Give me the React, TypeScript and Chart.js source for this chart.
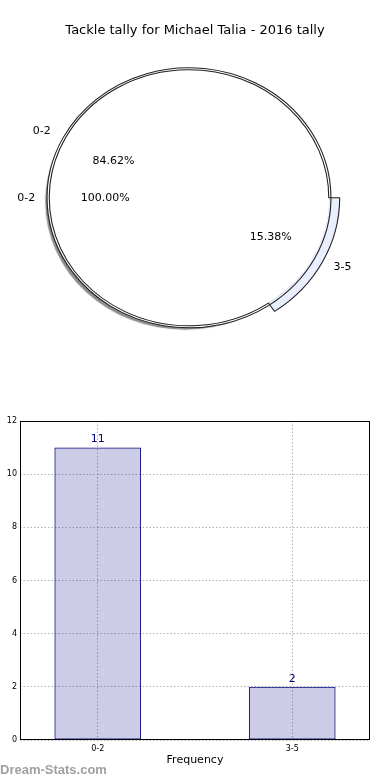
import React, { useEffect, useRef } from 'react';
import { Chart, registerables } from 'chart.js';

Chart.register(...registerables);

// ---------- data ----------
const TITLE = 'Tackle tally for Michael Talia - 2016 tally';
const BINS = ['0-2', '3-5'];
const GAMES = [11, 2];
const INNER_BINS = ['0-2'];
const INNER_VALUES = [100];
const Y_MIN = 0;
const Y_MAX = 12;
const Y_STEP = 2;
const X_TITLE = 'Frequency';
const Y_TITLE = 'Statistic Tally';
const WATERMARK = 'Dream-Stats.com';

// ---------- style ----------
const FONT = "'DejaVu Sans', sans-serif";
const PIE_COLORS = ['#ffffff', '#e9effc'];
const EXPLODED = [false, true];
const OUTER_EXPLODE = [0, 0.05];
const PIE_SX = 1.092;
const PIE_SHIFT = -6;
const EDGE = '#222222';
const GRID = 'rgba(0,0,0,0.3)';

const pieShape = {
  id: 'pieShape',
  beforeDatasetsDraw(chart: any) {
    const ctx = chart.ctx;
    const ca = chart.chartArea;
    const cx = (ca.left + ca.right) / 2;
    ctx.save();
    ctx.translate(cx + PIE_SHIFT, 0);
    ctx.scale(PIE_SX, 1);
    ctx.translate(-cx, 0);
  },
  beforeDatasetDraw(chart: any, args: any) {
    const ctx = chart.ctx;
    if (args.index === 2) {
      ctx.shadowColor = 'rgba(0,0,0,0.45)';
      ctx.shadowOffsetX = -4;
      ctx.shadowOffsetY = 4;
      ctx.shadowBlur = 1;
    } else {
      ctx.shadowColor = 'rgba(0,0,0,0)';
    }
  },
  afterDatasetDraw(chart: any) {
    chart.ctx.shadowColor = 'rgba(0,0,0,0)';
  },
  afterDatasetsDraw(chart: any) {
    chart.ctx.restore();
  },
};

const pieLabels = {
  id: 'pieLabels',
  afterDraw(chart: any) {
    const ctx = chart.ctx;
    const ca = chart.chartArea;
    const cx = (ca.left + ca.right) / 2;
    const mapX = (x: number) => cx + PIE_SHIFT + (x - cx) * PIE_SX;
    ctx.save();
    ctx.font = `11px ${FONT}`;
    ctx.fillStyle = '#000';
    ctx.textBaseline = 'middle';
    const draw = (arc: any, name: string, pct: string, explode: number) => {
      const mid = (arc.startAngle + arc.endAngle) / 2;
      const r = arc.outerRadius;
      const c = Math.cos(mid);
      const s = Math.sin(mid);
      const e = explode * r;
      const nr = r * 1.1 + e;
      ctx.textAlign = c < -0.001 ? 'right' : 'left';
      ctx.fillText(name, mapX(arc.x + c * nr), arc.y + s * nr);
      const pr = r * 0.6 + e;
      ctx.textAlign = 'center';
      ctx.fillText(pct, mapX(arc.x + c * pr), arc.y + s * pr);
    };
    const total = GAMES.reduce((a, b) => a + b, 0);
    const n = BINS.length;
    const outerMeta = chart.getDatasetMeta(1);
    outerMeta.data.forEach((arc: any, j: number) => {
      const i = n - 1 - j;
      draw(arc, BINS[i], ((GAMES[i] / total) * 100).toFixed(2) + '%', OUTER_EXPLODE[i]);
    });
    const innerTotal = INNER_VALUES.reduce((a, b) => a + b, 0);
    const innerMeta = chart.getDatasetMeta(2);
    innerMeta.data.forEach((arc: any, i: number) => {
      draw(arc, INNER_BINS[i], ((INNER_VALUES[i] / innerTotal) * 100).toFixed(2) + '%', 0);
    });
    ctx.restore();
  },
};

const frame = {
  id: 'frame',
  afterDraw(chart: any) {
    const ctx = chart.ctx;
    const { left, top, right, bottom } = chart.chartArea;
    ctx.save();
    ctx.strokeStyle = '#000';
    ctx.lineWidth = 1;
    const l = Math.round(left) + 0.5;
    const t = Math.round(top) + 0.5;
    const r = Math.round(right) - 0.5;
    const b = Math.round(bottom) - 0.5;
    ctx.strokeRect(l, t, r - l, b - t);
    ctx.restore();
  },
};

const barLabels = {
  id: 'barLabels',
  afterDatasetsDraw(chart: any) {
    const ctx = chart.ctx;
    const meta = chart.getDatasetMeta(0);
    ctx.save();
    ctx.font = `11px ${FONT}`;
    ctx.fillStyle = '#000080';
    ctx.textAlign = 'center';
    ctx.textBaseline = 'middle';
    meta.data.forEach((bar: any, i: number) => {
      ctx.fillText(String(GAMES[i]), bar.x, bar.y - 8);
    });
    ctx.restore();
  },
};

export default function App() {
  const pieRef = useRef<HTMLCanvasElement>(null);
  const barRef = useRef<HTMLCanvasElement>(null);

  useEffect(() => {
    const rev = [...GAMES].reverse();
    const revIdx = rev.map((_, j) => GAMES.length - 1 - j);

    const pie = new Chart(pieRef.current as HTMLCanvasElement, {
      type: 'pie',
      data: {
        labels: revIdx.map((i) => BINS[i]),
        datasets: [
          {
            data: rev,
            weight: 8,
            rotation: 90,
            backgroundColor: revIdx.map((i) => (EXPLODED[i] ? PIE_COLORS[i] : 'rgba(0,0,0,0)')),
            borderColor: EDGE,
            borderWidth: revIdx.map((i) => (EXPLODED[i] ? 1 : 0)),
          } as any,
          {
            data: rev,
            weight: 2,
            rotation: 90,
            backgroundColor: revIdx.map((i) => PIE_COLORS[i]),
            borderColor: EDGE,
            borderWidth: revIdx.map((i) => (EXPLODED[i] ? 0 : 1)),
          } as any,
          {
            data: INNER_VALUES,
            weight: 128,
            rotation: 90,
            backgroundColor: INNER_VALUES.map(() => PIE_COLORS[0]),
            borderColor: EDGE,
            borderWidth: 0,
          } as any,
        ],
      },
      options: {
        animation: false,
        responsive: false,
        devicePixelRatio: 1,
        events: [],
        radius: 138,
        layout: { padding: 0 },
        plugins: {
          legend: { display: false },
          tooltip: { enabled: false },
          title: {
            display: true,
            text: TITLE,
            color: '#000',
            font: { family: FONT, size: 13, weight: 'normal' },
            padding: { top: 23, bottom: 9 },
          },
        },
      } as any,
      plugins: [pieShape, pieLabels],
    });

    const bar = new Chart(barRef.current as HTMLCanvasElement, {
      type: 'bar',
      data: {
        datasets: [
          {
            data: GAMES.map((v, i) => ({ x: i, y: v })),
            backgroundColor: 'rgba(0,0,128,0.2)',
            borderColor: '#000080',
            borderWidth: 1,
            borderSkipped: false,
            categoryPercentage: 1,
            barPercentage: 0.446,
          } as any,
        ],
      },
      options: {
        animation: false,
        responsive: false,
        devicePixelRatio: 1,
        events: [],
        layout: { padding: { top: 21, right: 20, left: 0, bottom: 0 } },
        plugins: {
          legend: { display: false },
          tooltip: { enabled: false },
        },
        scales: {
          x: {
            type: 'linear',
            min: -0.4,
            max: 1.4,
            offset: false,
            afterBuildTicks: (s: any) => {
              s.ticks = BINS.map((_, i) => ({ value: i }));
            },
            afterFit: (s: any) => {
              s.height = 40;
            },
            ticks: {
              callback: (v: any) => BINS[v as number] ?? '',
              font: { family: FONT, size: 8 },
              color: '#000',
              padding: 4,
              maxRotation: 0,
            },
            grid: { offset: false, color: GRID, lineWidth: 1, drawTicks: false },
            border: { display: false, dash: [1.5, 2] },
            title: {
              display: true,
              text: X_TITLE,
              color: '#000',
              font: { family: FONT, size: 11 },
              padding: { top: 0, bottom: 13.4 },
            },
          },
          y: {
            min: Y_MIN,
            max: Y_MAX,
            afterFit: (s: any) => {
              s.width = 32;
            },
            ticks: {
              stepSize: Y_STEP,
              font: { family: FONT, size: 8 },
              color: '#000',
              padding: 3,
            },
            grid: { color: GRID, lineWidth: 1, drawTicks: false },
            border: { display: false, dash: [1.5, 2] },
            title: {
              display: true,
              text: Y_TITLE,
              color: '#000',
              font: { family: FONT, size: 11 },
              padding: { top: 1, bottom: 0 },
            },
          },
        },
      } as any,
      plugins: [frame, barLabels],
    });

    return () => {
      pie.destroy();
      bar.destroy();
    };
  }, []);

  return (
    <div
      style={{
        position: 'absolute',
        left: 0,
        top: 0,
        width: 390,
        height: 780,
        overflow: 'hidden',
        background: '#fff',
      }}
    >
      <canvas ref={pieRef} width={390} height={348} style={{ position: 'absolute', left: 0, top: 0 }} />
      <canvas ref={barRef} width={402} height={380} style={{ position: 'absolute', left: -12, top: 400 }} />
      <div
        style={{
          position: 'absolute',
          left: 0,
          top: 762,
          fontFamily: "'Liberation Sans', sans-serif",
          fontWeight: 'bold',
          fontSize: 13,
          lineHeight: '15px',
          color: '#a0a0a0',
          whiteSpace: 'nowrap',
        }}
      >
        {WATERMARK}
      </div>
    </div>
  );
}
